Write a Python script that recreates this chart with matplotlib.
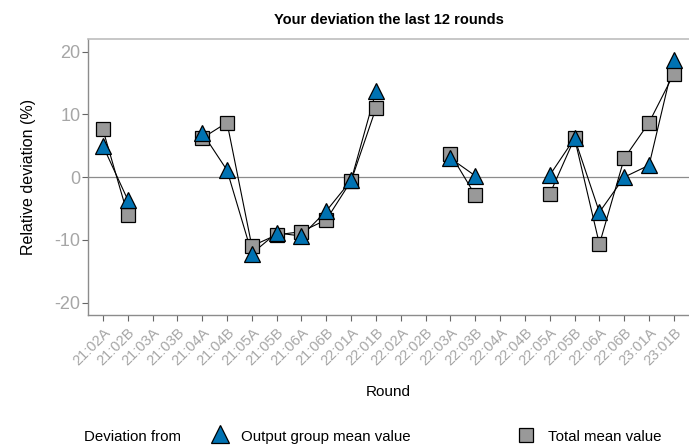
import numpy as np
import matplotlib
matplotlib.use('Agg')
import matplotlib.pyplot as plt
import matplotlib.transforms as mtransforms
from matplotlib.lines import Line2D

plt.rcParams['font.family'] = ['Liberation Sans', 'DejaVu Sans']
plt.rcParams['axes.unicode_minus'] = False

rounds = ['21:02A', '21:02B', '21:03A', '21:03B', '21:04A', '21:04B', '21:05A', '21:05B',
          '21:06A', '21:06B', '22:01A', '22:01B', '22:02A', '22:02B', '22:03A', '22:03B',
          '22:04A', '22:04B', '22:05A', '22:05B', '22:06A', '22:06B', '23:01A', '23:01B']
nan = np.nan
group_dev = [5.0, -3.6, nan, nan, 7.1, 1.1, -12.2, -8.9, -9.4, -5.4, -0.5, 13.7,
             nan, nan, 3.0, 0.2, nan, nan, 0.3, 6.2, -5.6, 0.0, 1.9, 18.6]
total_dev = [7.6, -6.0, nan, nan, 6.2, 8.7, -11.0, -9.2, -8.7, -6.8, -0.6, 11.0,
             nan, nan, 3.7, -2.9, nan, nan, -2.7, 6.2, -10.7, 3.0, 8.7, 16.5]

blue = '#0072B2'
grey = '#999999'
tick_grey = '#a6a6a6'

fig = plt.figure(figsize=(6.89, 4.45), dpi=100)
ax = fig.add_axes([0.1277, 0.292, 0.872, 0.62])

x = np.arange(len(rounds))
ax.axhline(0, color='#8c8c8c', lw=0.9, zorder=1)
ax.plot(x, total_dev, color='black', lw=0.8, zorder=2)
ax.plot(x, group_dev, color='black', lw=0.8, zorder=2)
ax.plot(x, total_dev, ls='none', marker='s', ms=10, mfc=grey, mec='black', mew=0.9, zorder=3)
ax.plot(x, group_dev, ls='none', marker='^', ms=12, mfc=blue, mec='black', mew=0.9, zorder=4)

ax.set_xlim(-0.6, 23.6)
ax.set_ylim(-22, 22)
ax.set_yticks([-20, -10, 0, 10, 20])
ax.set_xticks(x)
ax.set_xticklabels(rounds, rotation=45, ha='right', rotation_mode='anchor',
                   fontsize=10.5, color=tick_grey)
shift = mtransforms.ScaledTranslation(6 / 100, -1 / 100, fig.dpi_scale_trans)
for lab in ax.get_xticklabels():
    lab.set_transform(lab.get_transform() + shift)
ax.tick_params(axis='y', labelsize=13, labelcolor=tick_grey, color='#666666',
               length=4, pad=1.5)
ax.tick_params(axis='x', color='#666666', length=4)

for side in ['left', 'bottom']:
    ax.spines[side].set_color('#8c8c8c')
    ax.spines[side].set_linewidth(1.0)
ax.spines['top'].set_color('#bdbdbd')
ax.spines['top'].set_linewidth(1.2)
ax.spines['right'].set_visible(False)

ax.set_ylabel('Relative deviation (%)', fontsize=11.5, color='black', labelpad=13)
ax.set_xlabel('Round', fontsize=11, color='black', labelpad=12)
fig.text(0.564, 0.955, 'Your deviation the last 12 rounds', ha='center', va='center',
         fontsize=10.5, fontweight='bold')

# legend at the bottom, laid out by hand
fs = 10.8
fig.text(0.122, 0.019, 'Deviation from', fontsize=fs, va='center')
fig.add_artist(Line2D([0.319], [0.024], transform=fig.transFigure, marker='^', ms=13,
                      mfc=blue, mec='black', mew=0.9, ls='none'))
fig.text(0.350, 0.019, 'Output group mean value', fontsize=fs, va='center')
fig.add_artist(Line2D([0.764], [0.022], transform=fig.transFigure, marker='s', ms=10,
                      mfc=grey, mec='black', mew=0.9, ls='none'))
fig.text(0.795, 0.019, 'Total mean value', fontsize=fs, va='center')

fig.savefig('out.png', dpi=100)
